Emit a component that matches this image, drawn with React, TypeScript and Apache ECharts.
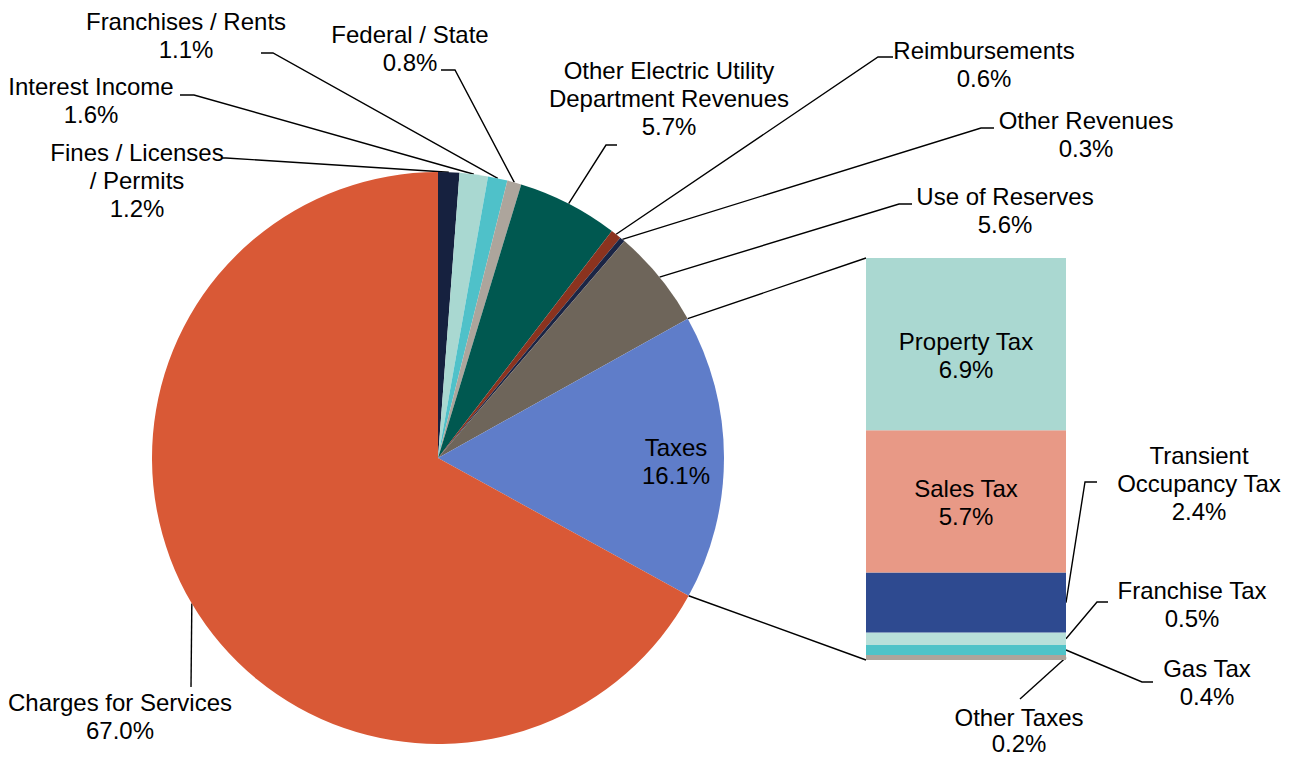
import React, { useEffect, useRef } from 'react';
import * as echarts from 'echarts';

// ---------- data ----------
const revenueCategories = [
  'Fines / Licenses\n/ Permits',
  'Interest Income',
  'Franchises / Rents',
  'Federal / State',
  'Other Electric Utility\nDepartment Revenues',
  'Reimbursements',
  'Other Revenues',
  'Use of Reserves',
  'Taxes',
  'Charges for Services',
];
const revenueShares = [1.2, 1.6, 1.1, 0.8, 5.7, 0.6, 0.3, 5.6, 16.1, 67.0];
const revenueColors = ['#16213F', '#A9D8D1', '#4FC1C9', '#ADA59C', '#005850', '#8B331F', '#1B2545', '#6E655A', '#5F7DC9', '#D95936'];

const taxCategories = ['Property Tax', 'Sales Tax', 'Transient\nOccupancy Tax', 'Franchise Tax', 'Gas Tax', 'Other Taxes'];
const taxShares = [6.9, 5.7, 2.4, 0.5, 0.4, 0.2];
const taxColors = ['#AAD8D1', '#E89986', '#2E4A90', '#B8E0DA', '#4FC3C8', '#ADA59C'];

// ---------- layout ----------
const FONT = 'Liberation Sans, Arial, sans-serif';
const FONT_SIZE = 24;
const LINE_H = 28;
const PIE_CX = 438;
const PIE_CY = 458;
const PIE_R = 286;
const BAR_LEFT = 866;
const BAR_TOP = 258;
const BAR_W = 200;
const BAR_H = 402;
const TAXES_INDEX = 8;

type Pt = [number, number];
const pieLabelLayout: { x: number; y: number; line?: Pt[] }[] = [
  { x: 137, y: 180, line: [[226, 158], [222, 158]] },
  { x: 91, y: 100, line: [[194, 95], [180, 95]] },
  { x: 186, y: 35, line: [[273, 53], [261, 53]] },
  { x: 410, y: 48, line: [[455, 70], [441, 70]] },
  { x: 669, y: 98, line: [[606, 145], [617, 145]] },
  { x: 984, y: 64, line: [[878, 57], [893, 57]] },
  { x: 1086, y: 134, line: [[981, 128], [994, 128]] },
  { x: 1005, y: 210, line: [[899, 204], [912, 204]] },
  { x: 676, y: 461 },
  { x: 120, y: 716, line: [[191, 687], [191, 687]] },
];
const taxLabelLayout: { x: number; y: number; lineHeight?: number; line?: Pt[] }[] = [
  { x: 966, y: 355 },
  { x: 966, y: 502 },
  { x: 1199, y: 483, line: [[1085, 482], [1097, 482]] },
  { x: 1192, y: 604, line: [[1097, 602], [1108, 602]] },
  { x: 1207, y: 682, line: [[1142, 682], [1153, 682]] },
  { x: 1019, y: 730, lineHeight: 26, line: [[1020, 699], [1020, 699]] },
];

const revenueTotal = revenueShares.reduce((a, b) => a + b, 0);
const taxTotal = taxShares.reduce((a, b) => a + b, 0);

function piePoint(shareCum: number): Pt {
  const t = (2 * Math.PI * shareCum) / revenueTotal;
  return [PIE_CX + PIE_R * Math.sin(t), PIE_CY - PIE_R * Math.cos(t)];
}
function cumBefore(arr: number[], i: number) {
  let s = 0;
  for (let k = 0; k < i; k++) s += arr[k];
  return s;
}

export default function App() {
  const ref = useRef<HTMLDivElement>(null);

  useEffect(() => {
    const chart = echarts.init(ref.current!, null, { renderer: 'svg' });

    const labelBase = {
      color: '#000',
      fontFamily: FONT,
      fontSize: FONT_SIZE,
      lineHeight: LINE_H,
      align: 'center' as const,
    };

    const barSeries = taxCategories
      .map((name, i) => ({
        type: 'bar' as const,
        name,
        stack: 'taxes',
        xAxisIndex: 0,
        yAxisIndex: 0,
        barWidth: '100%',
        barCategoryGap: 0,
        data: [taxShares[i]],
        itemStyle: { color: taxColors[i], borderWidth: 0 },
        label: {
          show: true,
          position: 'inside' as const,
          ...labelBase,
          lineHeight: taxLabelLayout[i].lineHeight ?? LINE_H,
          formatter: () => `${name}\n${taxShares[i].toFixed(1)}%`,
        },
        labelLayout: () => ({
          x: taxLabelLayout[i].x,
          y: taxLabelLayout[i].y,
          align: 'center',
          verticalAlign: 'middle',
        }),
        emphasis: { disabled: true },
      }))
      .reverse();

    const option: any = {
      animation: false,
      backgroundColor: '#fff',
      textStyle: { fontFamily: FONT },
      grid: { left: BAR_LEFT, top: BAR_TOP, width: BAR_W, height: BAR_H },
      xAxis: { type: 'category', data: ['Taxes'], show: false },
      yAxis: { type: 'value', min: 0, max: taxTotal, show: false, splitLine: { show: false } },
      series: [
        {
          type: 'pie',
          center: [PIE_CX, PIE_CY],
          radius: PIE_R,
          startAngle: 90,
          clockwise: true,
          avoidLabelOverlap: false,
          emphasis: { disabled: true },
          itemStyle: { borderWidth: 0 },
          label: {
            show: true,
            position: 'outside',
            ...labelBase,
            formatter: (p: any) => `${p.name}\n${revenueShares[p.dataIndex].toFixed(1)}%`,
          },
          labelLine: { show: true, length: 10, length2: 10, lineStyle: { color: '#000', width: 1.4 } },
          labelLayout: (p: any) => {
            const L = pieLabelLayout[p.dataIndex];
            const res: any = { x: L.x, y: L.y, align: 'center', verticalAlign: 'middle' };
            if (L.line) {
              const a = piePoint(cumBefore(revenueShares, p.dataIndex) + revenueShares[p.dataIndex] / 2);
              res.labelLinePoints = [a, L.line[0], L.line[1]];
            }
            return res;
          },
          data: revenueCategories.map((name, i) => {
            const d: any = { name, value: revenueShares[i], itemStyle: { color: revenueColors[i] } };
            if (i === TAXES_INDEX) {
              d.label = { position: 'inside' };
              d.labelLine = { show: false };
            }
            return d;
          }),
        },
        ...barSeries,
      ],
    };
    chart.setOption(option);

    // connectors and bar leader lines, positioned through the chart's own scales
    const yPix = (v: number) => chart.convertToPixel({ yAxisIndex: 0 }, v) as number;
    const taxStart = piePoint(cumBefore(revenueShares, TAXES_INDEX));
    const taxEnd = piePoint(cumBefore(revenueShares, TAXES_INDEX + 1));
    const lineStyle = { stroke: '#000', lineWidth: 1.4, fill: 'none' };
    const graphics: any[] = [
      { type: 'polyline', shape: { points: [taxStart, [BAR_LEFT, yPix(taxTotal)]] }, style: lineStyle, silent: true },
      { type: 'polyline', shape: { points: [taxEnd, [BAR_LEFT, yPix(0)]] }, style: lineStyle, silent: true },
    ];
    taxCategories.forEach((_, i) => {
      const L = taxLabelLayout[i];
      if (!L.line) return;
      const midVal = taxTotal - cumBefore(taxShares, i) - taxShares[i] / 2;
      const anchor: Pt = [BAR_LEFT + BAR_W, yPix(midVal)];
      graphics.push({ type: 'polyline', shape: { points: [anchor, L.line[0], L.line[1]] }, style: lineStyle, silent: true });
    });
    chart.setOption({ graphic: graphics });

    return () => chart.dispose();
  }, []);

  return (
    <div
      ref={ref}
      style={{ position: 'fixed', left: 0, top: 0, width: '1297px', height: '757px', background: '#fff' }}
    />
  );
}
